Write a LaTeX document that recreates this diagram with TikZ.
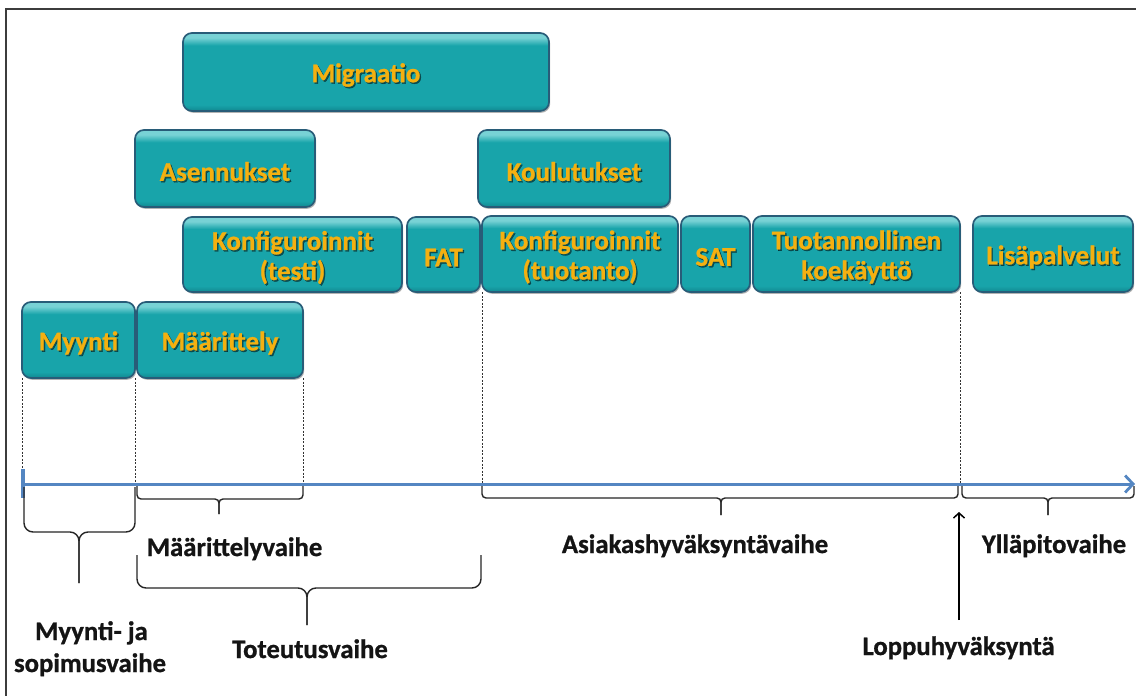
\documentclass[tikz,border=0pt]{standalone}
\usepackage{fontspec}
\setmainfont{Carlito}[BoldFeatures={FakeBold=0.9}]
\usetikzlibrary{arrows.meta,shadows,calc}

\definecolor{tealmain}{RGB}{24,164,170}
\definecolor{teallight}{RGB}{120,210,213}
\definecolor{tealdark}{RGB}{17,136,144}
\definecolor{boxedge}{RGB}{40,92,120}
\definecolor{gold}{RGB}{244,176,16}
\definecolor{axisblue}{RGB}{84,134,194}
\definecolor{framegray}{RGB}{60,60,60}

% vertical fill of the phase boxes: darker bottom rim, flat body, light top rim
\pgfdeclareverticalshading{tealbox}{100bp}{color(0bp)=(tealdark); color(25bp)=(tealdark);
  color(29bp)=(tealmain); color(67bp)=(tealmain); color(72bp)=(teallight);
  color(75bp)=(teallight); color(100bp)=(teallight)}

\tikzset{
  phase/.style={rectangle, rounded corners=9pt, draw=boxedge, line width=1.7pt,
    shading=tealbox, inner sep=0pt, outer sep=0pt,
    drop shadow={shadow xshift=1.2pt, shadow yshift=-1.8pt, opacity=0.3, fill=black}},
  phasetext/.style={text=gold, font=\bfseries\fontsize{27}{30}\selectfont,
    align=center, inner sep=0pt},
  phaseshade/.style={phasetext, text=black, text opacity=0.5},
  stage/.style={font=\bfseries\fontsize{26.7}{30}\selectfont, text=black!92, inner sep=0pt},
  guide/.style={draw=black!80, line width=1pt, dash pattern=on 2pt off 1.5pt},
  bracket/.style={draw=black!85, line width=1.4pt, rounded corners=#1},
  bracket/.default=4pt,
  timeline/.style={draw=axisblue, line width=3pt,
    -{Straight Barb[length=8pt,width=17pt,line width=2.8pt]}},
  finalarrow/.style={draw=black, line width=1.3pt,
    -{Straight Barb[length=5pt,width=11pt,line width=1.5pt]}},
  frameline/.style={draw=framegray, line width=2pt},
}

% box with shaded body, text shadow and golden text
\newcommand\phasebox[6]{%
  \node[phase, minimum width={#4-#2}, minimum height={#5-#3}]
    (#1) at ({(#2+#4)/2},{(#3+#5)/2}) {};
  \node[phaseshade] (#1-s) at ([xshift=1.4pt,yshift=-4.5pt]#1.center) {#6};
  \node[phasetext] (#1-t) at ([yshift=-3pt]#1.center) {#6};
}

\begin{document}
\begin{tikzpicture}[x=1pt,y=-1pt]
\useasboundingbox (0,0) rectangle (1136,696);
\fill[white] (0,0) rectangle (1136,696);

% outer frame (top and left edges)
\draw[frameline] (6,696) -- (6,9) -- (1136,9);

% phase boxes
\phasebox{mig}{183}{33}{549}{111}{Migraatio}
\phasebox{ase}{135}{130}{315}{207}{Asennukset}
\phasebox{kou}{478}{130}{670}{207}{Koulutukset}
\phasebox{kte}{183}{217}{402}{292}{Konfiguroinnit\\(testi)}
\phasebox{fat}{407}{217}{480}{292}{FAT}
\phasebox{ktu}{482}{216}{678}{292}{Konfiguroinnit\\(tuotanto)}
\phasebox{sat}{681}{216}{750}{292}{SAT}
\phasebox{tk}{753}{216}{960}{292}{Tuotannollinen\\koekäyttö}
\phasebox{lis}{973}{216}{1133}{292}{Lisäpalvelut}
\phasebox{myy}{22}{302}{135}{378}{Myynti}
\phasebox{maa}{137}{302}{303}{378}{Määrittely}

% time axis
\coordinate (ax0) at (23,484);
\coordinate (ax1) at (1135,484);
\coordinate (acc) at (959,512);

% guide lines from the boxes down to the axis
\draw[guide] (myy.south west) -- (myy.south west |- ax0);
\draw[guide] (myy.south east) -- (myy.south east |- ax0);
\draw[guide] (maa.south east) -- (maa.south east |- ax0);
\draw[guide] (ktu.south west) -- (ktu.south west |- ax0);
\draw[guide] (tk.south east) -- (tk.south east |- ax0);

\draw[timeline] (ax0) -- (ax1);
\draw[draw=axisblue, line width=3.5pt] (23,469) -- (23,498);

% stage brackets
\draw[bracket=9pt] (24,487) -- (24,532) -- (79,532) -- (79,583);
\draw[bracket=9pt] (135,487) -- (135,532) -- (79,532) -- (79,583);

\draw[bracket] (137,486) -- (137,499) -- (219,499) -- (219,514);
\draw[bracket] (303,486) -- (303,499) -- (219,499) -- (219,514);

\draw[bracket=9pt] (137,555) -- (137,588) -- (307,588) -- (307,625);
\draw[bracket=9pt] (481,555) -- (481,588) -- (307,588) -- (307,625);

\draw[bracket] (482,486) -- (482,498) -- (721,498) -- (721,515);
\draw[bracket] (958,486) -- (958,498) -- (721,498) -- (721,515);

\draw[bracket] (962,486) -- (962,498) -- (1048,498) -- (1048,515);
\draw[bracket] (1134,486) -- (1134,498) -- (1048,498) -- (1048,515);

% stage labels
\node[stage, anchor=base] (smaa) at (234.5,556) {Määrittelyvaihe};
\node[stage, anchor=base] (sasi) at (695,553) {Asiakashyväksyntävaihe};
\node[stage, anchor=base] (syll) at (1054,553) {Ylläpitovaihe};
\node[stage, anchor=base] (stot) at (310,658) {Toteutusvaihe};
\node[stage, anchor=base] (smyy1) at (91.5,640) {Myynti- ja};
\node[stage, anchor=base] (smyy2) at (90,672) {sopimusvaihe};
\node[stage, anchor=base] (loppu) at (958.5,655) {Loppuhyväksyntä};

% final acceptance marker
\draw[finalarrow, shorten <=16pt] (loppu.north -| acc) -- (acc);
\end{tikzpicture}
\end{document}
